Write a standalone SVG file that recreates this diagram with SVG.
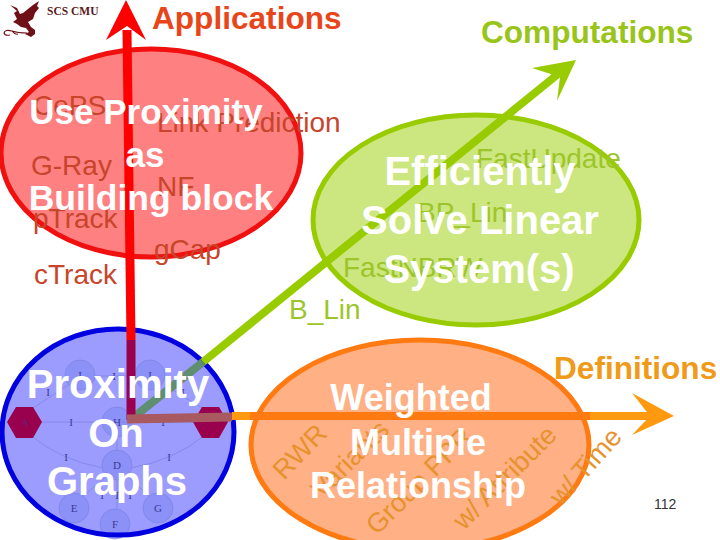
<svg xmlns="http://www.w3.org/2000/svg" width="720" height="540" viewBox="0 0 720 540">
<style>
text{font-family:"Liberation Sans",Arial,sans-serif}
.w{font-weight:bold;fill:#fff;text-anchor:middle}
.h1{font-weight:bold;font-size:31.6px}
.r{font-size:28px;fill:#c8442a}
.g{font-size:28px;fill:#9cc52a}
.o{font-size:27px;fill:#e8922e}
.n{fill:#8088f0;fill-opacity:.55;stroke:#7a82dc;stroke-width:.7}
.l{fill:none;stroke:#7a82dc;stroke-width:.7}
.t{font-family:"Liberation Serif",serif;font-size:11px;fill:#3a3a98;text-anchor:middle}
.h{fill:#99004d}
</style>
<rect width="720" height="540" fill="#fff"/>
<g id="logo" fill="#6e1016">
<path d="M10 5L17 8L20 14L23 13L28 9L33 5L39 1L37 6L39 8L35 13L33 19L28 22L31 27L35 30L35 34L31 37L25 34L29 32L26 28L21 27L17 24L13 22L17 19L14 13L17 11Z"/>
<path d="M27 33Q18 33 12 31Q5 29 4 33Q5 36 10 35M12 31Q15 35 18 34" fill="none" stroke="#6e1016" stroke-width="1.1"/>
</g>
<text x="47" y="15" style="font-family:'Liberation Serif',serif;font-weight:bold;font-size:11.5px" fill="#5a1a1a">SCS CMU</text>
<g id="node-blue">
<ellipse cx="118" cy="432" rx="116" ry="103" fill="#9c9cff"/>
<path class="l" d="M24 422H212M30 410L68 385M95 376H135M165 385L205 410M30 435Q60 460 103 468M205 435Q175 460 131 468M117 437V450M107 476L82 497M117 480V509M127 476L150 497"/>
<circle class="n" cx="80" cy="375" r="15"/><circle class="n" cx="150" cy="375" r="15"/>
<circle class="n" cx="117" cy="422" r="15"/><circle class="n" cx="117" cy="465" r="15"/>
<circle class="n" cx="74" cy="508" r="15"/><circle class="n" cx="158" cy="508" r="15"/><circle class="n" cx="115" cy="524" r="15"/>
<polygon class="h" points="7,422 16,407 33,407 42,422 33,438 16,438"/>
<polygon class="h" points="193,422 202,407 219,407 228,422 219,438 202,438"/>
<text class="t" x="25" y="426" fill-opacity=".5">A</text><text class="t" x="117" y="426">H</text><text class="t" x="117" y="469">D</text><text class="t" x="74" y="512">E</text><text class="t" x="158" y="512">G</text><text class="t" x="115" y="528">F</text>
<text class="t" x="80" y="379">I</text><text class="t" x="150" y="379">I</text><text class="t" x="114" y="380">I</text><text class="t" x="48" y="396">I</text><text class="t" x="183" y="396">I</text><text class="t" x="71" y="426">I</text><text class="t" x="163" y="426">I</text><text class="t" x="66" y="461">I</text><text class="t" x="169" y="461">I</text><text class="t" x="102" y="499">I</text><text class="t" x="117" y="499">I</text><text class="t" x="130" y="499">I</text>
<ellipse cx="118" cy="432" rx="116" ry="103" fill="none" stroke="#0000e0" stroke-width="5"/>
</g>
<g id="node-red">
<ellipse cx="151" cy="153" rx="150" ry="104" fill="#ff8080" stroke="#f01010" stroke-width="5"/>
</g>
<g id="node-green">
<ellipse cx="476" cy="220" rx="163" ry="105" fill="#cce680" stroke="#99cc00" stroke-width="5"/>
</g>
<g id="node-orange">
<ellipse cx="420" cy="445" rx="169" ry="105" fill="#ffb085" stroke="#ff7a10" stroke-width="5"/>
</g>
<g id="connectors">
<path d="M203 362L568 66" stroke="#99cc00" stroke-width="8" fill="none"/>
<path d="M576 60L532 68L560 77L557 101Z" fill="#99cc00"/>
<path d="M127 30L131 340" stroke="#ff0000" stroke-width="9" fill="none"/>
<path d="M126 0L146 40L127 26L106 40Z" fill="#ff0000"/>
<path d="M250 416H590" stroke="#ff7a10" stroke-width="8" fill="none"/>
<path d="M590 416H658" stroke="#ff9a10" stroke-width="8" fill="none"/>
<path d="M632 393L674 416L632 435L650 416Z" fill="#ff9a10"/>
<path d="M130 420L203 362" stroke="#5f8f70" stroke-width="8" fill="none"/>
<path d="M131 340V420" stroke="#99004d" stroke-width="9" fill="none"/>
<path d="M127 419L232 417" stroke="#a85a60" stroke-width="9" fill="none"/>
<path d="M232 416H250" stroke="#ff9a10" stroke-width="8" fill="none"/>
</g>
<g id="labels">
<text class="h1" x="152" y="29" fill="#e8461a">Applications</text>
<text class="h1" x="481" y="43" fill="#99c41a">Computations</text>
<text class="h1" x="554" y="379" fill="#f09a1a">Definitions</text>
<text class="r" x="33" y="115">CePS</text>
<text class="r" x="157" y="132">Link Prediction</text>
<text class="r" x="31" y="175">G-Ray</text>
<text class="r" x="157" y="196">NF</text>
<text class="r" x="33" y="228">pTrack</text>
<text class="r" x="154" y="259">gCap</text>
<text class="r" x="34" y="284">cTrack</text>
<text class="g" x="476" y="168">FastUpdate</text>
<text class="g" x="417" y="222">BP_Lin</text>
<text class="g" x="343" y="277">FastNBRW</text>
<text class="g" x="289" y="319">B_Lin</text>
<text class="o" transform="translate(284 481) rotate(-46)">RWR</text>
<text class="o" transform="translate(322 500) rotate(-45)">Variants</text>
<text class="o" transform="translate(377 536) rotate(-45)">Group PPR</text>
<text class="o" transform="translate(464 531) rotate(-45)">w/ Attribute</text>
<text class="o" transform="translate(561 507) rotate(-48)">w/ Time</text>
<text x="654" y="509" style="font-size:14px" fill="#333">112</text>
<text class="w" x="146" y="124" style="font-size:35px">Use Proximity</text>
<text class="w" x="145" y="167" style="font-size:35px">as</text>
<text class="w" x="151" y="210" style="font-size:35.500px">Building block</text>
<text class="w" x="480" y="185" style="font-size:40px">Efficiently</text>
<text class="w" x="480" y="234" style="font-size:40px">Solve Linear</text>
<text class="w" x="479" y="283" style="font-size:40px">System(s)</text>
<text class="w" x="118" y="398" style="font-size:40px">Proximity</text>
<text class="w" x="116" y="447" style="font-size:40px">On</text>
<text class="w" x="117" y="495" style="font-size:40px">Graphs</text>
<text class="w" x="411" y="410" style="font-size:36px">Weighted</text>
<text class="w" x="418" y="455" style="font-size:36px">Multiple</text>
<text class="w" x="418" y="498" style="font-size:36px">Relationship</text>
</g>
</svg>
